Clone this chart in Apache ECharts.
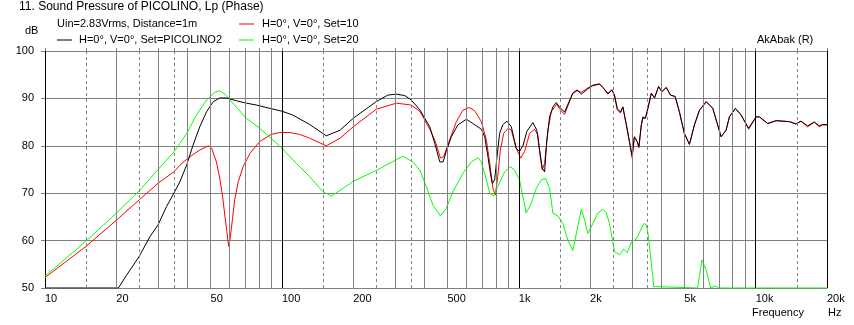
<!DOCTYPE html>
<html><head><meta charset="utf-8">
<script src="https://cdn.jsdelivr.net/npm/echarts@6/dist/echarts.min.js"></script>
<style>html,body{margin:0;padding:0;background:#fff}#c{width:854px;height:325px}</style>
</head><body><div id="c"></div>
<script>
// ---- data (frequency in Hz, level in dB) ----
const blackFreq = [10,20.4,22.1,25,27.7,30,32.6,35,37.1,39.6,42.2,45,48.1,51.3,54.7,58.3,64.3,70.8,78,89,100,111,131,154,176,200,250,280,304,330,351,382,421,442,464,479,494,519,553,601,640,695,718,741,759,773,791,809,830,855,891,930,975,1007,1041,1081,1147,1191,1224,1256,1285,1314,1349,1393,1439,1486,1560,1690,1765,1836,1955,2054,2193,2265,2377,2471,2536,2603,2687,2749,2840,2933,3011,3075,3160,3213,3290,3340,3421,3508,3626,3741,3890,4018,4193,4368,4572,4766,5000,5253,5512,5790,6180,6590,6846,7145,7500,7745,8210,8675,9340,10040,10370,11240,12200,13870,14800,15530,16560,17690,18560,19170,20000];
const blackDb   = [50,50,52.7,56.7,60.8,63.3,67.2,70,72.4,75.9,80.2,84,87.2,89.3,90.1,90.1,89.5,89,88.6,87.9,87.3,86.5,84.5,82.1,83.3,85.8,89.3,90.7,90.9,90.6,89.7,87.6,84,80.5,76.6,76.6,78.8,81.9,84.4,85.6,84.7,83.5,81.9,77.7,74.2,72.1,72.8,77.7,82.6,84.4,85.2,84,79.5,78.8,80,83,84.9,83.3,79.1,75.3,74.5,81.2,86.1,88.2,89.1,88.2,87.1,91.1,91.8,90.9,92,92.7,93,92.3,90.9,91.8,90.7,87.9,87.1,88.2,84.7,80.9,77.9,81.9,80.9,79.8,84.4,86.1,85.8,87.9,91.1,90.1,92.5,91.4,92.3,90.7,90.4,87.2,82.6,80.3,84.4,87.5,89.3,87.9,85.1,81.9,83.3,86.1,87.9,86.5,83.7,86.1,86.1,84.7,85.3,85.1,84.6,85.2,84.2,85,84.2,84.5,84.5];

const redFreq = [10,15,20,25,30,35,37.1,40.9,45,48.9,50.5,52.9,54.7,56.1,57.4,58.6,59.6,60.6,61.9,63.2,65.4,68.6,73.3,80.6,90,97.9,108,119,131,154,176,200,250,304,351,382,421,442,467,482,510,545,581,616,651,695,730,754,778,796,815,836,863,902,930,975,1019,1058,1111,1166,1204,1232,1256,1285,1327,1371,1447,1486,1560,1690,1765,1836,1955,2054,2193,2265,2377,2471,2536,2603,2687,2749,2840,2933,3011,3075,3160,3213,3290,3340,3421,3508,3626,3741,3890,4018,4193,4368,4572,4766,5000,5253,5512,5790,6180,6590,6846,7145,7500,7745,8210,8675,9340,10040,10370,11240,12200,13870,14800,15530,16560,17690,18560,19170,20000];
const redDb   = [52.2,58.9,64.3,68.6,72.1,74.5,75.9,77.7,79.1,80,79.5,76.6,73.1,69.6,65.4,61.9,58.8,60.8,64.7,68.6,72.4,75.6,78.4,80.9,82.4,82.8,82.8,82.4,81.6,80,81.6,84,87.7,89,88.6,87.3,83.5,81.2,77.4,77.7,81.2,85.1,87.5,88.1,87.4,85.1,81.2,76.3,71,69.6,73.5,79.1,82.6,83.7,83.3,79.5,77.4,78.8,82.6,83.5,82.3,77.7,74.9,76.3,83.3,87.2,88.8,87.8,86.6,91.1,91.6,91.3,92.2,92.8,93.1,92.3,91.1,91.8,90.5,87.6,86.9,88.2,84.5,80.7,77.4,81.9,80.9,79.6,84.4,85.8,85.8,87.9,91.1,90.1,92.5,91.4,92.3,90.7,90.4,87,82.6,80.3,84.4,87.5,89.3,87.9,85.1,81.9,83.3,86.1,87.9,86.5,83.5,86.1,86.1,84.7,85.3,85.1,84.6,85.2,84,85,84,84.4,84.4];

const greenFreq = [10,15,20,25,30,35,37.1,39.6,43.6,48.1,52.1,54.7,57.4,60.3,70.8,80.6,90,100,115,131,149,162,200,250,324,357,382,407,434,467,494,527,581,631,672,695,730,754,783,815,871,921,959,1007,1041,1075,1129,1185,1245,1298,1349,1393,1462,1486,1535,1611,1690,1750,1836,1898,1955,2054,2157,2265,2339,2415,2536,2659,2774,2868,3001,3131,3266,3373,3460,3527,3626,3715,3777,5690,5930,6180,6460,6770,6990,20000];
const greenDb   = [52.5,60,65.8,70.5,75,78.7,80.5,82.6,86.5,89.7,91.3,91.6,90.9,89.7,85.8,83.7,81.6,79.5,76.3,73.5,70.3,69.4,72.5,74.8,77.8,76.6,74.9,71.4,67.5,65.2,66.8,70.3,74.2,76.6,77.5,76.6,72.8,70,69.4,71.4,74.5,75.6,74.9,72.8,69.3,65.8,67.9,71,72.8,73.1,71,65.8,65.2,65,63.6,60.1,57.9,61.5,66.6,64.3,61.5,63.6,65.8,66.6,65.9,63.6,57.7,57,58.2,57.5,59.8,60.3,62.2,63.6,63.3,60.8,55.2,50.3,50,50,55.9,53.8,50,50.4,50,50];

const xLabelValues = [10,20,50,100,200,500,1000,2000,5000,10000,20000];
const solidGrid  = [20,30,40,50,60,70,80,90,200,300,400,500,600,700,800,900,2000,3000,4000,5000,6000,7000,8000,9000];
const dashedGrid = [15,25,35,150,250,350,1500,2500,3500,15000];
const blackGrid  = [100,1000,10000,20000];

const seriesNames = ['H=0°, V=0°, Set=10','H=0°, V=0°, Set=20','H=0°, V=0°, Set=PICOLINO2'];

function pairs(f, d){ return f.map((v,i)=>[v,d[i]]); }

const FONT = 'Liberation Sans';
const gridLineData = []
  .concat(solidGrid.map(v=>({xAxis:v, lineStyle:{color:'#808080', type:'solid', width:1}})))
  .concat(dashedGrid.map(v=>({xAxis:v, lineStyle:{color:'#808080', type:[3,3], width:1}})))
  .concat(blackGrid.map(v=>({xAxis:v, lineStyle:{color:'#000000', type:'solid', width:1}})));

const chart = echarts.init(document.getElementById('c'), null, {renderer:'canvas'});
chart.setOption({
  animation:false,
  backgroundColor:'#ffffff',
  textStyle:{fontFamily:FONT},
  title:{text:'11. Sound Pressure of PICOLINO, Lp (Phase)', left:19, top:1, padding:0,
    textStyle:{fontSize:12, fontWeight:'normal', color:'#000', fontFamily:FONT}},
  legend:[
    {data:[seriesNames[0], seriesNames[1]], orient:'vertical', left:239, top:17, padding:0,
     icon:'rect', itemWidth:15, itemHeight:1, itemGap:2,
     textStyle:{fontSize:11, color:'#000', lineHeight:14, padding:[0,0,0,3], fontFamily:FONT}},
    {data:[seriesNames[2]], orient:'vertical', left:57, top:33, padding:0,
     icon:'rect', itemWidth:15, itemHeight:1,
     textStyle:{fontSize:11, color:'#000', lineHeight:14, padding:[0,0,0,2], fontFamily:FONT}}
  ],
  graphic:[
    {type:'text', left:57, top:18, style:{text:'Uin=2.83Vrms, Distance=1m', fontSize:11, fill:'#000', fontFamily:FONT}},
    {type:'text', left:25, top:25, style:{text:'dB', fontSize:11, fill:'#000', fontFamily:FONT}},
    {type:'text', left:757, top:34, style:{text:'AkAbak (R)', fontSize:11, fill:'#000', fontFamily:FONT}},
    {type:'text', left:752, top:307, style:{text:'Frequency', fontSize:11, fill:'#000', fontFamily:FONT}},
    {type:'text', left:828, top:307, style:{text:'Hz', fontSize:11, fill:'#000', fontFamily:FONT}}
  ],
  grid:{left:45, right:27, top:51, bottom:37, containLabel:false},
  xAxis:[{
    type:'log', logBase:10, min:10, max:20000, position:'bottom',
    axisLine:{show:true, lineStyle:{color:'#808080', width:1}},
    axisTick:{show:false},
    splitLine:{show:false},
    axisLabel:{show:true, customValues:xLabelValues, align:'left', margin:5, fontSize:11, color:'#000', fontFamily:FONT,
      showMinLabel:true, showMaxLabel:true,
      formatter:function(v){ return v>=1000 ? (v/1000)+'k' : String(v); }}
  },{
    type:'log', logBase:10, min:10, max:20000, position:'top',
    axisLine:{show:false},
    axisTick:{show:true, customValues:solidGrid.concat(dashedGrid, blackGrid, [10]), length:3, lineStyle:{color:'#808080'}},
    axisLabel:{show:false}, splitLine:{show:false}
  }],
  yAxis:{
    type:'value', min:50, max:100, interval:10,
    axisLine:{show:true, onZero:false, lineStyle:{color:'#000', width:1}},
    axisTick:{show:true, length:4, lineStyle:{color:'#808080'}},
    splitLine:{show:true, lineStyle:{color:'#808080', width:1}},
    axisLabel:{fontSize:11, color:'#000', margin:11, padding:[0,0,8,0], fontFamily:FONT}
  },
  series:[
    {name:'grid', type:'line', z:1, data:[[10,50]], symbol:'none', silent:true, lineStyle:{width:0},
     markLine:{silent:true, symbol:['none','none'], label:{show:false}, animation:false, data:gridLineData}},
    {name:seriesNames[0], type:'line', z:3, color:'#ff0000', data:pairs(redFreq, redDb), symbol:'none', lineStyle:{width:1, color:'#ff0000'}},
    {name:seriesNames[1], type:'line', z:3, color:'#00ff00', data:pairs(greenFreq, greenDb), symbol:'none', lineStyle:{width:1, color:'#00ff00'}},
    {name:seriesNames[2], type:'line', z:4, color:'#000000', data:pairs(blackFreq, blackDb), symbol:'none', lineStyle:{width:1, color:'#000000'}}
  ]
});
</script></body></html>
